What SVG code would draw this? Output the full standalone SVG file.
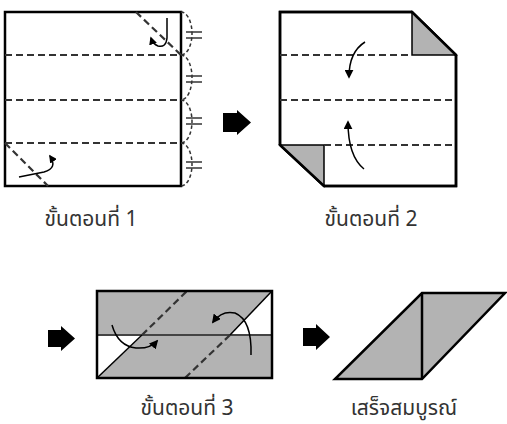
<svg xmlns="http://www.w3.org/2000/svg" width="507" height="424" viewBox="0 0 507 424">
<style>
.edge{fill:none;stroke:#000;stroke-width:2.5;stroke-linejoin:miter}
.fold{fill:none;stroke:#333;stroke-width:2.2;stroke-dasharray:7 4}
.arc{fill:none;stroke:#333;stroke-width:1.5;stroke-dasharray:3.5 2.5}
.tick{stroke:#333;stroke-width:1.5}
.grey{fill:#b3b3b3}
.curve{fill:none;stroke:#000;stroke-width:1.5}
.big{fill:#000}
.lbl{font-family:"Noto Sans Thai","Tahoma","Noto Sans",sans-serif;font-size:21px;fill:#333;text-anchor:middle}
</style>
<defs>
<marker id="ah" viewBox="0 0 10 10" refX="8" refY="5" markerWidth="8" markerHeight="8" markerUnits="userSpaceOnUse" orient="auto">
<path d="M0,0 L10,5 L0,10 Z" fill="#000"/>
</marker>
<marker id="ah2" viewBox="0 0 10 10" refX="8" refY="5" markerWidth="9" markerHeight="9" markerUnits="userSpaceOnUse" orient="auto">
<path d="M0,0 L10,5 L0,10 Z" fill="#000"/>
</marker>
</defs>

<g id="step1">
<rect x="5" y="12" width="176" height="174" fill="#fff" class="edge"/>
<line class="fold" x1="5" y1="55" x2="181" y2="55"/>
<line class="fold" x1="5" y1="100" x2="181" y2="100"/>
<line class="fold" x1="5" y1="143" x2="181" y2="143"/>
<line class="fold" x1="136" y1="12" x2="181" y2="55"/>
<line class="fold" x1="5" y1="143" x2="48" y2="186"/>
<path class="arc" d="M181,12 A11,21.5 0 0 1 181,55"/>
<path class="arc" d="M181,55 A11,22.5 0 0 1 181,100"/>
<path class="arc" d="M181,100 A11,21.5 0 0 1 181,143"/>
<path class="arc" d="M181,143 A11,21.5 0 0 1 181,186"/>
<g class="tick">
<line x1="186" y1="32" x2="202" y2="32"/><line x1="186" y1="38" x2="202" y2="38"/>
<line x1="186" y1="76" x2="202" y2="76"/><line x1="186" y1="82" x2="202" y2="82"/>
<line x1="186" y1="118" x2="202" y2="118"/><line x1="186" y1="124" x2="202" y2="124"/>
<line x1="186" y1="162" x2="202" y2="162"/><line x1="186" y1="168" x2="202" y2="168"/>
</g>
<path class="curve" d="M167,18 L167,38 Q166,48 158,46 Q153,44 151,38" marker-end="url(#ah)"/>
<path class="curve" d="M19,177 L44,172 Q58,168 50,156" marker-end="url(#ah)"/>
<text class="lbl" x="91" y="226">ขั้นตอนที่ 1</text>
</g>

<g id="arrow1"><path class="big" d="M223,113 L237,113 L237,110 L251,122.5 L237,135 L237,132 L223,132 Z"/></g>

<g id="step2">
<path fill="#fff" class="edge" d="M280,12 L412,12 L456,55 L456,186 L324,186 L280,145 Z"/>
<path class="grey" d="M412,12 L456,55 L412,55 Z" stroke="#000" stroke-width="1.5"/>
<path class="grey" d="M280,145 L324,145 L324,186 Z" stroke="#000" stroke-width="1.5"/>
<path class="edge" d="M280,12 L412,12 L456,55 L456,186 L324,186 L280,145 Z"/>
<line class="fold" x1="280" y1="55" x2="412" y2="55"/>
<line class="fold" x1="280" y1="100" x2="456" y2="100"/>
<line class="fold" x1="324" y1="145" x2="456" y2="145"/>
<path class="curve" d="M365,42 Q349,52 349,77" marker-end="url(#ah2)"/>
<path class="curve" d="M364,169 Q348,156 348,122" marker-end="url(#ah2)"/>
<text class="lbl" x="371" y="226">ขั้นตอนที่ 2</text>
</g>

<g id="arrow2"><path class="big" d="M48,330 L61,330 L61,326 L75,338.5 L61,351 L61,347 L48,347 Z"/></g>

<g id="step3">
<rect x="97" y="291" width="175" height="87" class="grey"/>
<path d="M97,336 L142,336 L97,378 Z" fill="#fff"/>
<path d="M230,335 L272,335 L272,291 Z" fill="#fff"/>
<line x1="97" y1="335" x2="272" y2="335" stroke="#444" stroke-width="2"/>
<line x1="97" y1="378" x2="142" y2="335" stroke="#000" stroke-width="1.5"/>
<line class="fold" x1="142" y1="335" x2="187" y2="291"/>
<line x1="272" y1="291" x2="230" y2="335" stroke="#000" stroke-width="1.5"/>
<line class="fold" x1="230" y1="335" x2="185" y2="378"/>
<rect x="97" y="291" width="175" height="87" class="edge"/>
<path class="curve" d="M112,325 Q118,346 136,348 Q150,349 157,341" marker-end="url(#ah2)"/>
<path class="curve" d="M251,355 Q252,320 235,313 Q222,310 213,322" marker-end="url(#ah2)"/>
<text class="lbl" x="187" y="415">ขั้นตอนที่ 3</text>
</g>

<g id="arrow3"><path class="big" d="M303,328 L316,328 L316,324 L330,337 L316,350 L316,346 L303,346 Z"/></g>

<g id="final">
<path class="grey" d="M335,379 L422,379 L505,293 L422,293 Z"/>
<path class="edge" d="M335,379 L422,379 L505,293 L422,293 Z"/>
<line x1="422" y1="293" x2="422" y2="379" stroke="#000" stroke-width="2.5"/>
<text class="lbl" x="404" y="415">เสร็จสมบูรณ์</text>
</g>
</svg>
